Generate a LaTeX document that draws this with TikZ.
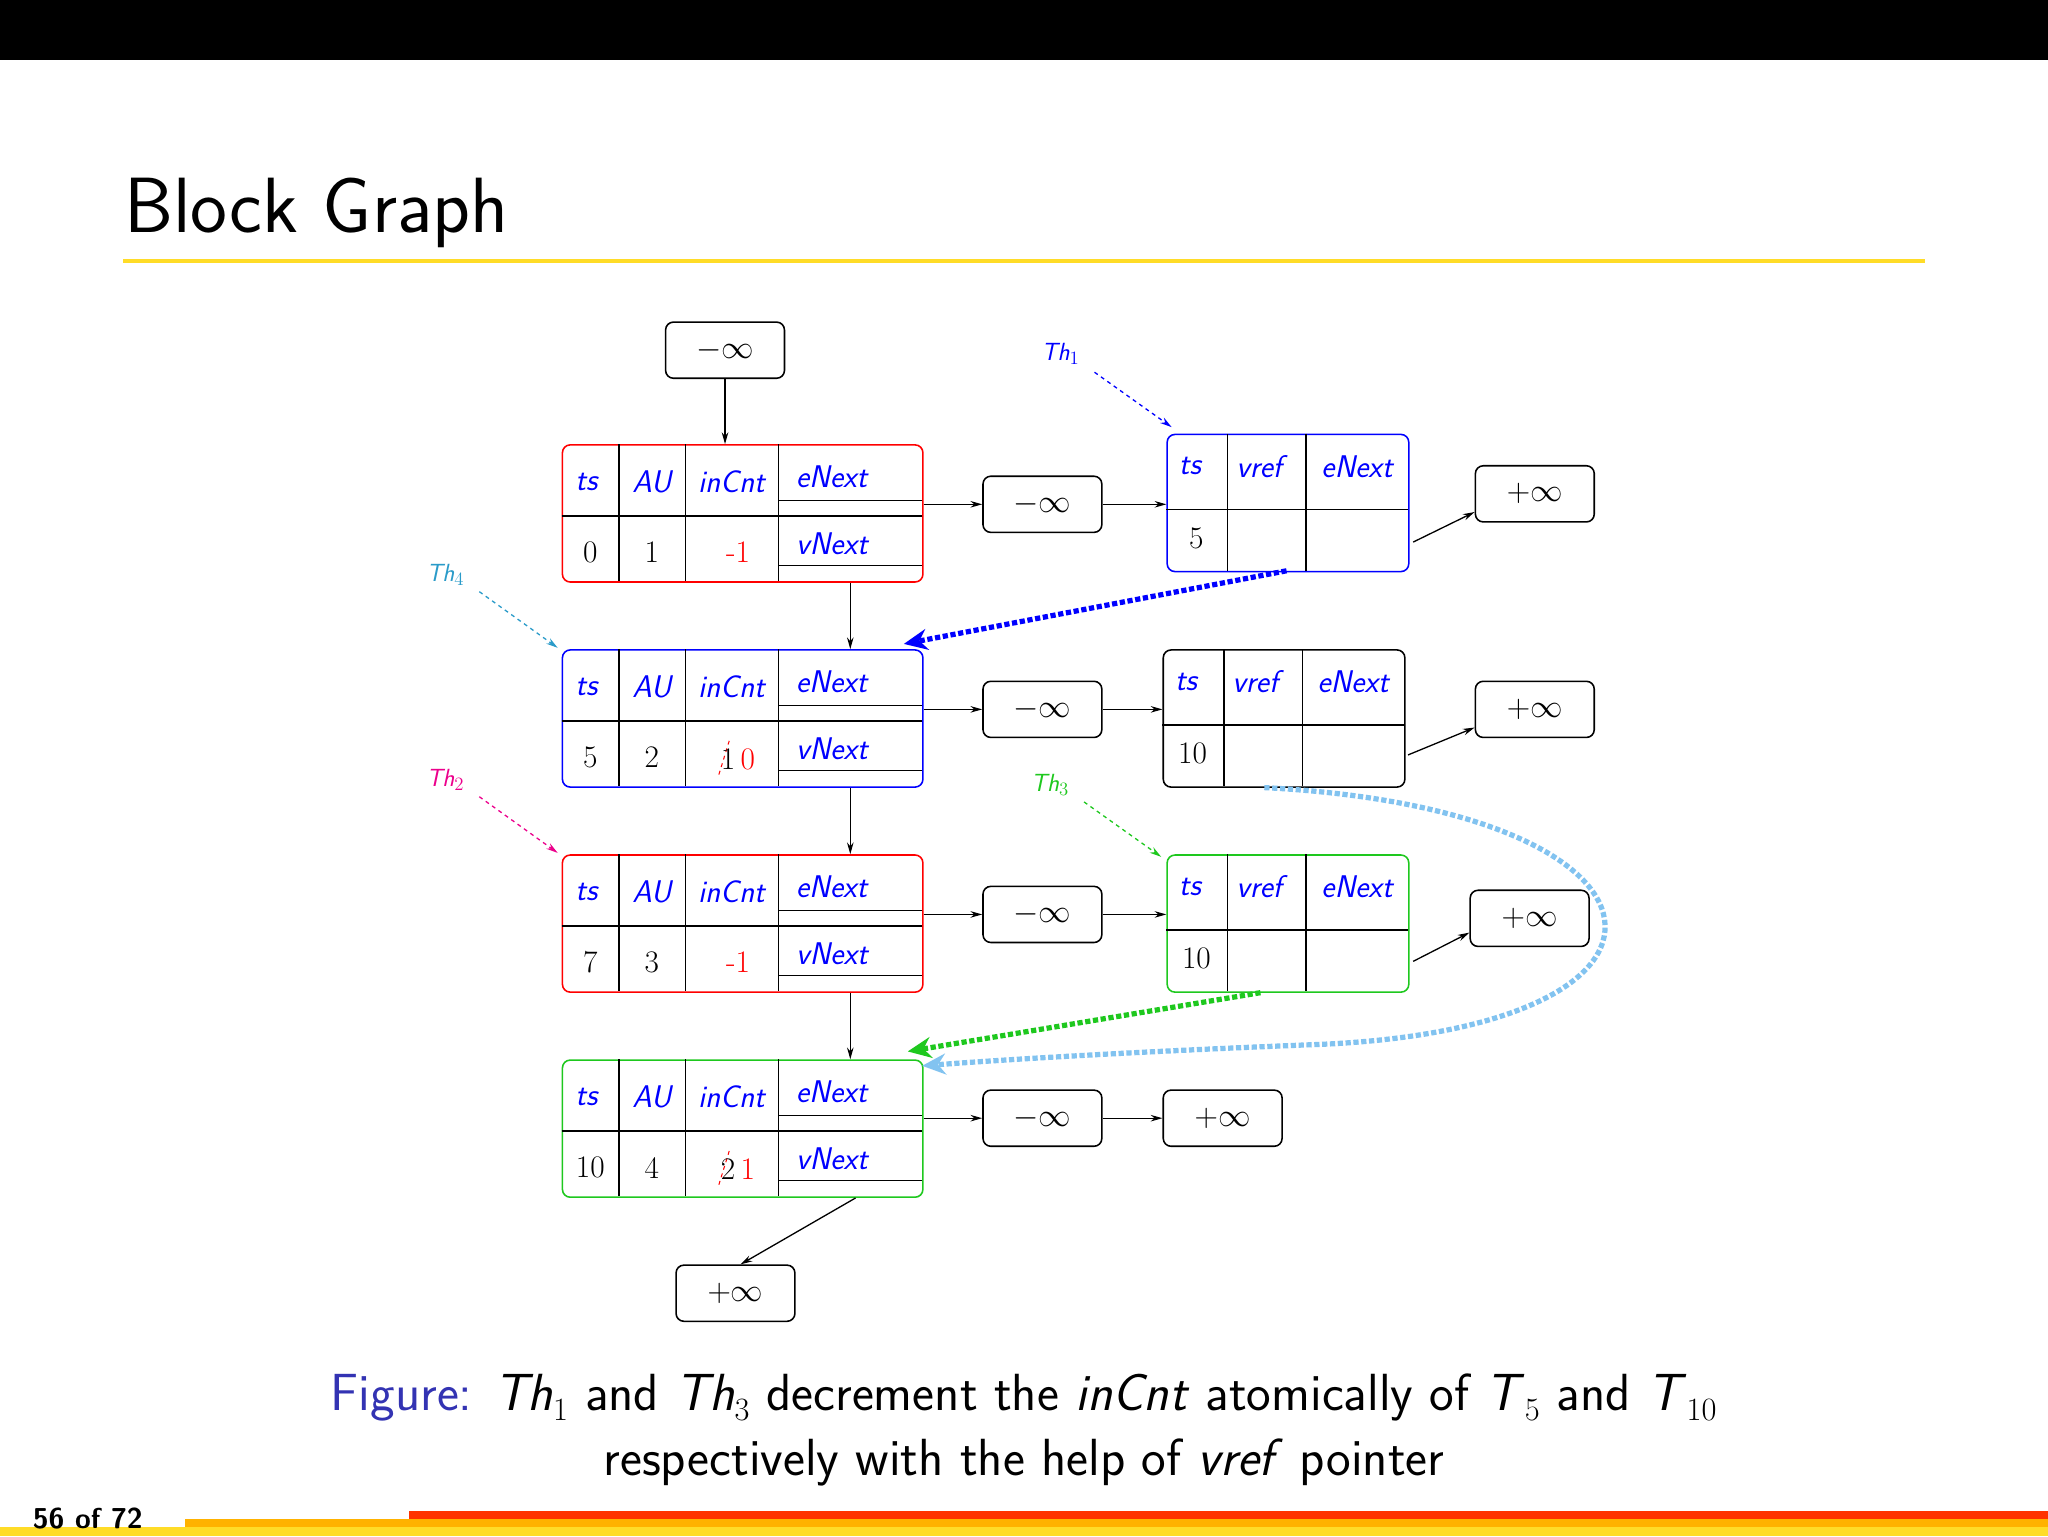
\documentclass[tikz,border=0pt]{standalone}
\usetikzlibrary{arrows.meta,calc}
\definecolor{capblue}{RGB}{51,51,179}
\definecolor{bgreen}{RGB}{30,200,30}
\definecolor{lblue}{RGB}{130,195,240}
\definecolor{ttl}{RGB}{255,220,40}
\tikzset{
 blk/.style={draw,rounded corners=6pt,line width=1.2pt,inner sep=0pt},
 infbox/.style={draw,rounded corners=6pt,line width=1.2pt,minimum width=91pt,minimum height=43pt,inner sep=0pt,font=\fontsize{26}{30}\selectfont},
 cl/.style={line width=1.1pt},
 hd/.style={font=\fontsize{24}{28}\selectfont\sffamily\itshape,text=blue},
 vl/.style={font=\fontsize{24}{28}\selectfont},
 arr/.style={-{Stealth[length=9pt,width=5pt]},line width=1pt},
 tharr/.style={-{Stealth[length=9pt,width=5pt]},line width=1pt,dashed},
 thl/.style={font=\fontsize{19}{22}\selectfont\sffamily\itshape},
 dotarr/.style={line width=4pt,dotted,-{Stealth[length=18pt,width=16pt]}},
}
% name x y color ts AU inCnt
\newcommand\bigblk[7]{%
 \node[blk,draw=#4,minimum width=276pt,minimum height=105pt,anchor=north west] (#1) at (#2,#3) {};
 \draw[cl] (#2+44,#3)--(#2+44,#3+105) (#2+95,#3)--(#2+95,#3+105) (#2+166,#3)--(#2+166,#3+105)
   (#2,#3+55)--(#2+276,#3+55) (#2+166,#3+43)--(#2+276,#3+43) (#2+166,#3+93)--(#2+276,#3+93);
 \node[hd] at (#2+19,#3+29) {ts};
 \node[hd] at (#2+69,#3+29) {AU};
 \node[hd] at (#2+130,#3+29) {inCnt};
 \node[hd,anchor=west] at (#2+176,#3+25) {eNext};
 \node[hd,anchor=west] at (#2+176,#3+76) {vNext};
 \node[vl] at (#2+22,#3+83) {#5};
 \node[vl] at (#2+69,#3+83) {#6};
 \node[vl] at (#2+135,#3+83) {#7};
}
\newcommand\smblk[5]{%
 \node[blk,draw=#4,minimum width=185pt,minimum height=105pt,anchor=north west] (#1) at (#2,#3) {};
 \draw[cl] (#2+47,#3)--(#2+47,#3+105) (#2+107,#3)--(#2+107,#3+105) (#2,#3+58)--(#2+185,#3+58);
 \node[hd] at (#2+18,#3+25) {ts};
 \node[hd] at (#2+71,#3+25) {vref};
 \node[hd] at (#2+146,#3+25) {eNext};
 \node[vl] at (#2+23,#3+80) {#5};
}
\begin{document}
\begin{tikzpicture}[x=1pt,y=-1pt]
\useasboundingbox (0,0) rectangle (1568,1176);
\fill[white] (0,0) rectangle (1568,1176);
\fill[black] (0,0) rectangle (1568,46);
\node[anchor=base west,inner sep=0pt,font=\fontsize{60}{70}\selectfont\sffamily] (title) at (95,178) {Block Graph};
\fill[ttl] (94,198.5) rectangle (1474,201.5);
% left column
\bigblk{b1}{430}{340}{red}{0}{1}{\textcolor{red}{-1}}
\bigblk{b2}{430}{497}{blue}{5}{2}{\rlap{\hspace{-2pt}\tikz[baseline]\draw[red,dashed,line width=0.8pt](0,-4pt)--(8pt,22pt);}1\textcolor{red}{\,0}}
\bigblk{b3}{430}{654}{red}{7}{3}{\textcolor{red}{-1}}
\bigblk{b4}{430}{811}{bgreen}{10}{4}{\rlap{\hspace{-2pt}\tikz[baseline]\draw[red,dashed,line width=0.8pt](0,-4pt)--(8pt,22pt);}2\textcolor{red}{\,1}}
\node[infbox,anchor=north west] (top) at (509,246) {$-\infty$};
\node[infbox,anchor=north west] (bot) at (517,968) {$+\infty$};
\draw[arr] (top.south) -- (b1.north -| top.south);
\draw[arr] (b1.south -| 651,0) -- (b2.north -| 651,0);
\draw[arr] (b2.south -| 651,0) -- (b3.north -| 651,0);
\draw[arr] (b3.south -| 651,0) -- (b4.north -| 651,0);
\draw[arr] (b4.south -| 655,0) -- (bot.north -| 567,0);
% row 1
\node[infbox,anchor=north west] (m1) at (752,364) {$-\infty$};
\smblk{s1}{893}{332}{blue}{5}
\node[infbox,anchor=north west] (p1) at (1129,356) {$+\infty$};
\draw[arr] (b1.east |- m1.west) -- (m1.west);
\draw[arr] (m1.east) -- (s1.west |- m1.east);
\draw[arr] (1082,415) -- (p1.west |- 0,392);
% row 2
\node[infbox,anchor=north west] (m2) at (752,521) {$-\infty$};
\smblk{s2}{890}{497}{black}{10}
\node[infbox,anchor=north west] (p2) at (1129,521) {$+\infty$};
\draw[arr] (b2.east |- m2.west) -- (m2.west);
\draw[arr] (m2.east) -- (s2.west |- m2.east);
\draw[arr] (1078,578) -- (p2.west |- 0,557);
% row 3
\node[infbox,anchor=north west] (m3) at (752,678) {$-\infty$};
\smblk{s3}{893}{654}{bgreen}{10}
\node[infbox,anchor=north west] (p3) at (1125,681) {$+\infty$};
\draw[arr] (b3.east |- m3.west) -- (m3.west);
\draw[arr] (m3.east) -- (s3.west |- m3.east);
\draw[arr] (1082,736) -- (p3.west |- 0,714);
% row 4
\node[infbox,anchor=north west] (m4) at (752,834) {$-\infty$};
\node[infbox,anchor=north west] (p4) at (890,834) {$+\infty$};
\draw[arr] (b4.east |- m4.west) -- (m4.west);
\draw[arr] (m4.east) -- (p4.west);
% thread labels
\node[thl,text=blue] (th1) at (812,271) {Th$_1$};
\node[thl,text=cyan!80!black] (th4) at (341,440) {Th$_4$};
\node[thl,text=magenta] (th2) at (341,597) {Th$_2$};
\node[thl,text=bgreen] (th3) at (804,601) {Th$_3$};
\draw[tharr,blue] (838,285) -- (897,327);
\draw[tharr,cyan!80!black] (367,453) -- (427,496);
\draw[tharr,magenta] (367,610) -- (427,653);
\draw[tharr,bgreen] (830,614) -- (889,656);
% vref pointers
\coordinate (v1) at (985,437);
\coordinate (v3) at (965,760);
\coordinate (v2) at (968,603);
\draw[dotarr,blue] (v1) -- (692,493);
\draw[dotarr,bgreen] (v3) -- (695,805);
\draw[dotarr,lblue] (v2) .. controls (1300,620) and (1320,790) .. (1000,800) .. controls (850,806) and (760,812) .. (706,816);
% caption
\node[font=\fontsize{40}{48}\selectfont\sffamily,anchor=base] (cap1) at (784,1080) {\textcolor{capblue}{Figure:} \textit{Th}$_1$ and \textit{Th}$_3$ decrement the \textit{inCnt} atomically of \textit{T}$_5$ and \textit{T}$_{10}$};
\node[font=\fontsize{40}{48}\selectfont\sffamily,anchor=base] (cap2) at (784,1130) {respectively with the help of \textit{vref} pointer};
% footer
\fill[orange!60!yellow] (142,1163) rectangle (1568,1169);
\fill[red!60!orange] (313,1157) rectangle (1568,1163);
\fill[ttl] (0,1169) rectangle (1568,1176);
\node[font=\fontsize{22}{26}\selectfont\sffamily\bfseries,anchor=base west,inner sep=0pt] (pg) at (25,1170) {56 of 72};
\end{tikzpicture}
\end{document}
